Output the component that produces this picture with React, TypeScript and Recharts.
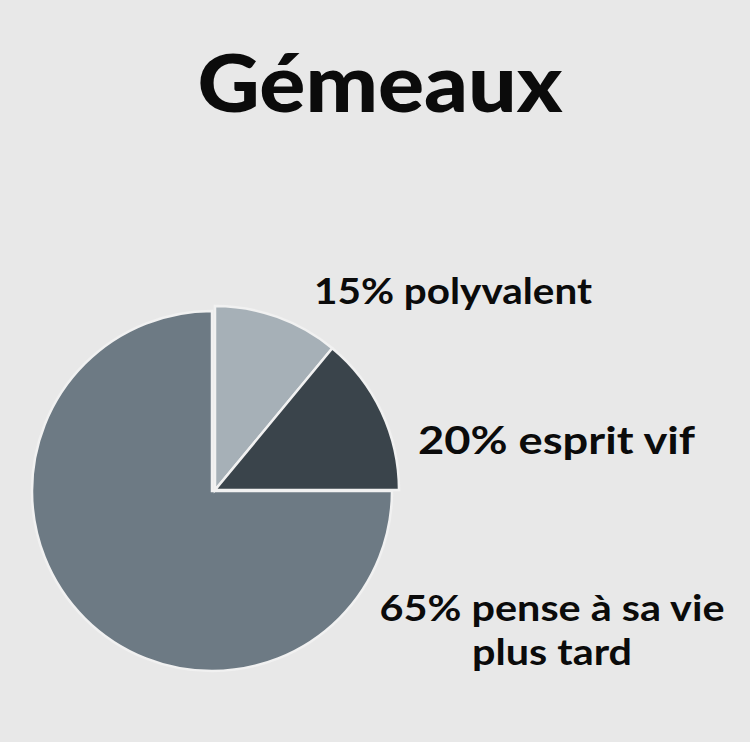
import { PieChart, Pie, Cell } from "recharts";

// slice names, the shares as drawn (light ~40°, dark ~50°, rest ~270°) and the printed labels
const SLICE_NAMES = ["polyvalent", "esprit vif", "pense à sa vie plus tard"];
const SLICE_SHARES = [11, 14, 75];
const LABEL_LINES = [
  ["15% polyvalent"],
  ["20% esprit vif"],
  ["65% pense à sa vie", "plus tard"],
];
const TITLE = "Gémeaux";

const SLICE_COLORS = ["#a6b0b7", "#3a444b", "#6d7a84"];
const LABEL_LAYOUT = [
  { x: 314, y: 304, size: 36, anchor: "start", widths: [278] },
  { x: 418, y: 454, size: 38, anchor: "start", widths: [277] },
  { x: 552, y: 621, size: 37, anchor: "middle", widths: [345, 160] },
];

const FONT = "Lato, 'Open Sans', sans-serif";

export default function App() {
  const data = SLICE_NAMES.map((name, i) => ({ name, value: SLICE_SHARES[i] }));

  return (
    <div
      style={{
        position: "absolute",
        left: 0,
        top: 0,
        width: 750,
        height: 742,
        background: "#e8e8e8",
        overflow: "hidden",
      }}
    >
      <PieChart width={750} height={742} margin={{ top: 0, right: 0, bottom: 0, left: 0 }}>
        {/* the big slice */}
        <Pie
          data={data}
          dataKey="value"
          cx={212}
          cy={491}
          outerRadius={180}
          startAngle={90}
          endAngle={-270}
          isAnimationActive={false}
        >
          {data.map((entry, index) => (
            <Cell
              key={`big-${index}`}
              fill={index === 2 ? SLICE_COLORS[index] : "none"}
              stroke={index === 2 ? "#f1f1f1" : "none"}
              strokeWidth={2.5}
            />
          ))}
        </Pie>
        {/* the two small slices, drawn a bit larger */}
        <Pie
          data={data}
          dataKey="value"
          cx={215}
          cy={490}
          outerRadius={184}
          startAngle={90}
          endAngle={-270}
          isAnimationActive={false}
        >
          {data.map((entry, index) => (
            <Cell
              key={`small-${index}`}
              fill={index < 2 ? SLICE_COLORS[index] : "none"}
              stroke={index < 2 ? "#f1f1f1" : "none"}
              strokeWidth={2.5}
            />
          ))}
        </Pie>
      </PieChart>

      <svg
        width={750}
        height={742}
        style={{ position: "absolute", left: 0, top: 0, pointerEvents: "none" }}
      >
        <text
          x={380}
          y={112}
          textAnchor="middle"
          fontFamily={FONT}
          fontWeight={900}
          fontSize={80}
          fill="#0b0b0b"
          textLength={365}
          lengthAdjust="spacingAndGlyphs"
        >
          {TITLE}
        </text>
        {LABEL_LINES.map((lines, i) => {
          const l = LABEL_LAYOUT[i];
          return lines.map((line, j) => (
            <text
              key={`${i}-${j}`}
              x={l.x}
              y={l.y + j * l.size * 1.18}
              textAnchor={l.anchor}
              fontFamily={FONT}
              fontWeight={700}
              fontSize={l.size}
              fill="#0b0b0b"
              textLength={l.widths[j]}
              lengthAdjust="spacingAndGlyphs"
            >
              {line}
            </text>
          ));
        })}
      </svg>
    </div>
  );
}
